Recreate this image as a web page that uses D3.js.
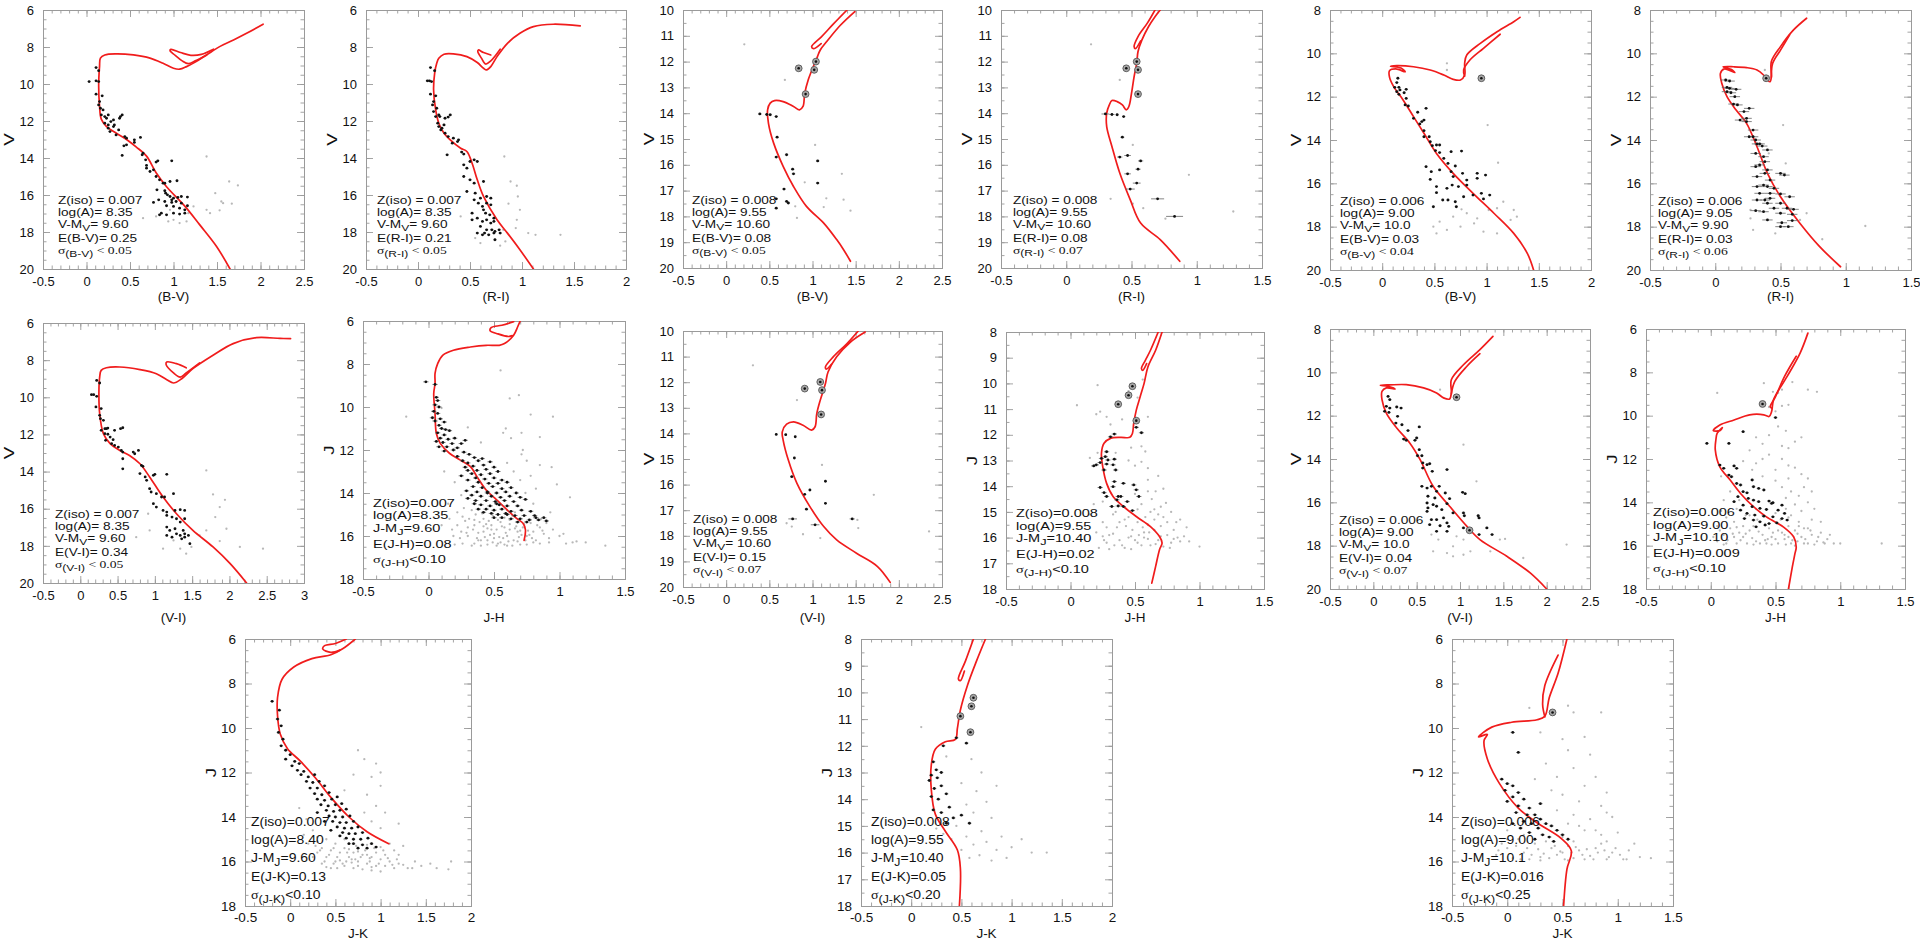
<!DOCTYPE html>
<html><head><meta charset="utf-8">
<script src="https://cdn.jsdelivr.net/npm/d3@7"></script>
<style>
body{margin:0;background:#fff;}
svg{display:block;}
text{font-family:"Liberation Sans",Arial,sans-serif;fill:#111;}
</style></head><body>
<svg id="fig" width="1920" height="941"></svg>
<script>
// ---- tick value sets ----
const xtA=[-0.5,0,0.5,1,1.5,2,2.5], xtB=[-0.5,0,0.5,1,1.5,2], xtC=[-0.5,0,0.5,1,1.5], xtD=[-0.5,0,0.5,1,1.5,2,2.5,3];
const ytA=[6,8,10,12,14,16,18,20], ytB=[10,11,12,13,14,15,16,17,18,19,20], ytC=[8,10,12,14,16,18,20], ytD=[6,8,10,12,14,16,18], ytE=[8,9,10,11,12,13,14,15,16,17,18];

// ---- isochrones (colour, magnitude) ----
const isoP1=[[1.65,20],[1.495,18.78],[1.30,17.6],[1.13,16.6],[0.92,15.55],[0.80,14.8],[0.69,13.9],[0.57,13.4],[0.46,13.0],[0.34,12.65],[0.23,12.3],[0.17,11.9],[0.15,11.2],[0.14,10.1],[0.15,9.05],[0.16,8.6],[0.21,8.43],[0.34,8.37],[0.54,8.43],[0.73,8.6],[0.88,8.88],[1.0,9.15],[1.07,9.2],[1.15,9.06],[1.26,8.79],[1.38,8.43],[1.53,7.98],[1.69,7.62],[1.84,7.26],[2.03,6.77]];
const loopP1=[[1.46,8.12],[1.32,8.4],[1.2,8.45],[1.08,8.3],[0.97,8.13],[0.96,8.2],[1.02,8.45],[1.1,8.75],[1.17,8.9],[1.25,8.75],[1.38,8.43]];
const isoP2=[[1.11,20],[0.98,18.96],[0.86,18.06],[0.76,17.34],[0.63,16.08],[0.57,15.18],[0.52,14.28],[0.47,13.65],[0.41,13.47],[0.31,13.02],[0.25,12.66],[0.20,12.12],[0.17,11.4],[0.15,10.32],[0.16,9.42],[0.18,8.88],[0.20,8.61],[0.25,8.39],[0.34,8.37],[0.47,8.52],[0.57,8.84],[0.63,9.15],[0.66,9.24],[0.70,9.06],[0.76,8.52],[0.86,7.8],[0.98,7.26],[1.11,6.9],[1.30,6.77],[1.56,6.86]];
const loopP2=[[0.70,8.43],[0.63,8.3],[0.58,8.16],[0.575,8.25],[0.61,8.6],[0.65,8.92],[0.70,8.75],[0.79,8.12]];
const isoP3=[[1.44,19.74],[1.36,19.29],[1.28,18.9],[1.13,18.26],[0.93,17.61],[0.78,16.84],[0.66,16.06],[0.55,15.16],[0.49,14.39],[0.48,13.87],[0.51,13.61],[0.56,13.51],[0.66,13.55],[0.78,13.74],[0.85,13.87],[0.89,13.74],[0.91,13.23],[0.95,12.71],[1.01,12.19],[1.05,11.87],[1.09,11.55],[1.17,11.2],[1.32,10.6],[1.49,10.06]];
const loopP3=[[1.40,10.0],[1.24,10.55],[1.10,11.05],[0.99,11.42],[1.01,11.5],[1.10,11.3]];
const isoP4=[[0.87,19.74],[0.72,18.9],[0.57,18.26],[0.49,17.35],[0.41,16.32],[0.35,15.29],[0.31,14.52],[0.31,14.0],[0.33,13.68],[0.35,13.51],[0.39,13.55],[0.43,13.68],[0.46,13.87],[0.48,13.74],[0.50,13.23],[0.52,12.58],[0.54,12.06],[0.55,11.61],[0.58,11.16],[0.63,10.65],[0.68,10.26],[0.72,10.0]];
const loopP4=[[0.68,10.0],[0.62,10.52],[0.55,11.03],[0.52,11.42],[0.53,11.5],[0.57,11.2]];
const isoP5=[[1.45,20],[1.39,19.23],[1.26,18.31],[1.07,17.38],[0.87,16.46],[0.68,15.54],[0.52,14.62],[0.40,13.69],[0.30,12.92],[0.20,12.15],[0.11,11.54],[0.07,11.1],[0.07,10.8],[0.13,10.72],[0.22,10.85],[0.18,10.68],[0.08,10.6],[0.14,10.57],[0.30,10.62],[0.46,10.77],[0.59,11.0],[0.68,11.2],[0.75,11.23],[0.79,11.0],[0.79,10.46],[0.81,10.08],[0.94,9.54],[1.10,9.0],[1.26,8.54],[1.32,8.34]];
const loopP5=[[0.79,11.05],[0.78,10.77],[0.84,10.31],[0.97,9.77],[1.13,9.12]];
const isoP6=[[0.96,19.85],[0.80,18.92],[0.65,17.85],[0.50,16.62],[0.40,15.54],[0.32,14.31],[0.24,13.23],[0.16,12.62],[0.09,12.0],[0.05,11.38],[0.04,10.92],[0.07,10.72],[0.15,10.89],[0.12,10.74],[0.06,10.62],[0.14,10.62],[0.24,10.66],[0.32,10.77],[0.37,11.0],[0.40,11.23],[0.42,11.31],[0.43,11.08],[0.43,10.38],[0.50,9.69],[0.60,8.92],[0.70,8.38]];
const loopP6=[[0.43,11.1],[0.44,10.46],[0.50,9.85],[0.57,9.15]];
const isoP7=[[2.23,20],[2.01,18.96],[1.78,18.06],[1.51,17.17],[1.29,16.27],[1.11,15.37],[0.93,14.29],[0.80,13.58],[0.66,13.13],[0.53,12.86],[0.40,12.5],[0.31,11.96],[0.26,10.88],[0.25,9.63],[0.26,8.91],[0.28,8.55],[0.35,8.41],[0.53,8.37],[0.80,8.51],[1.02,8.73],[1.16,9.05],[1.25,9.23],[1.36,9.0],[1.51,8.46],[1.78,7.74],[2.05,7.11],[2.36,6.79],[2.68,6.83],[2.82,6.84]];
const loopP7=[[1.42,8.41],[1.29,8.19],[1.16,8.1],[1.15,8.23],[1.25,8.69],[1.34,8.91],[1.42,8.69],[1.60,8.15]];
const isoP8=[[0.73,16.2],[0.74,15.71],[0.72,15.4],[0.67,15.17],[0.60,14.78],[0.52,14.32],[0.44,13.86],[0.37,13.24],[0.32,12.77],[0.24,12.46],[0.16,12.15],[0.09,11.69],[0.06,11.23],[0.05,10.3],[0.04,9.37],[0.05,8.91],[0.05,8.44],[0.07,7.98],[0.11,7.59],[0.19,7.36],[0.32,7.21],[0.44,7.13],[0.54,7.13],[0.58,7.05],[0.65,6.66],[0.68,6.28],[0.70,6.0]];
const loopP8=[[0.65,6.03],[0.56,6.2],[0.48,6.3],[0.47,6.45],[0.53,6.6],[0.61,6.72],[0.64,6.68]];
const isoP9=[[1.90,19.82],[1.75,19.19],[1.51,18.68],[1.28,18.16],[1.13,17.64],[0.97,16.86],[0.82,15.95],[0.72,15.04],[0.66,14.26],[0.65,13.94],[0.70,13.64],[0.78,13.55],[0.89,13.68],[0.99,13.87],[1.03,13.74],[1.05,13.22],[1.09,12.7],[1.15,12.05],[1.18,11.6],[1.28,11.01],[1.44,10.43],[1.61,10.04]];
const loopP9=[[1.53,10.0],[1.40,10.49],[1.24,11.01],[1.15,11.4],[1.16,11.49],[1.22,11.3]];
const isoP10=[[0.63,17.77],[0.66,17.12],[0.69,16.47],[0.71,16.21],[0.69,15.96],[0.62,15.57],[0.51,15.18],[0.41,14.79],[0.33,14.4],[0.28,13.89],[0.25,13.24],[0.24,12.72],[0.26,12.33],[0.31,12.14],[0.39,12.1],[0.46,12.1],[0.48,11.95],[0.49,11.56],[0.51,11.04],[0.54,10.52],[0.57,10.01],[0.60,9.36],[0.66,8.71],[0.71,8.0]];
const loopP10=[[0.68,8.0],[0.62,8.71],[0.58,9.1],[0.55,9.42],[0.56,9.49],[0.59,9.23]];
const isoP11=[[2.0,20],[1.81,19.26],[1.54,18.49],[1.23,17.72],[1.08,17.11],[0.88,16.18],[0.69,15.26],[0.54,14.03],[0.42,13.26],[0.27,12.57],[0.15,11.88],[0.10,11.26],[0.10,10.88],[0.15,10.72],[0.25,10.77],[0.17,10.65],[0.08,10.6],[0.19,10.58],[0.38,10.57],[0.58,10.72],[0.73,10.95],[0.81,11.18],[0.88,11.23],[0.90,10.95],[0.90,10.34],[1.04,9.65],[1.23,8.95],[1.38,8.34]];
const loopP11=[[0.90,11.0],[0.94,10.42],[1.08,9.72],[1.23,9.14]];
const isoP12=[[0.60,18],[0.63,16.98],[0.65,16.37],[0.66,16.06],[0.64,15.59],[0.56,15.13],[0.43,14.67],[0.33,14.2],[0.23,13.59],[0.15,12.97],[0.07,12.36],[0.035,11.58],[0.04,11.1],[0.05,10.81],[0.09,10.55],[0.07,10.69],[0.02,10.69],[0.07,10.43],[0.18,10.2],[0.30,9.96],[0.41,9.96],[0.45,10.04],[0.47,9.81],[0.485,9.27],[0.59,8.19],[0.69,7.11],[0.75,6.19]];
const loopP12=[[0.47,9.65],[0.46,9.58],[0.50,9.12],[0.57,8.19],[0.66,7.26]];
const isoP13=[[1.09,15.2],[0.85,14.66],[0.65,14.0],[0.45,13.12],[0.28,12.25],[0.11,11.48],[-0.03,10.93],[-0.11,10.27],[-0.14,9.45],[-0.14,8.63],[-0.09,7.81],[0.04,7.26],[0.24,6.88],[0.45,6.71],[0.58,6.44],[0.72,6.0]];
const loopP13=[[0.62,6.0],[0.50,6.2],[0.38,6.3],[0.36,6.45],[0.45,6.6],[0.55,6.5]];
const isoP14=[[0.48,18.0],[0.49,16.6],[0.46,15.9],[0.34,15.2],[0.24,14.56],[0.20,13.64],[0.20,12.72],[0.24,12.13],[0.34,11.85],[0.44,11.76],[0.46,11.35],[0.49,10.66],[0.56,9.74],[0.65,8.83],[0.74,8.0]];
const loopP14=[[0.62,8.0],[0.54,8.83],[0.47,9.5],[0.49,9.56],[0.53,9.2]];
const isoP15=[[0.51,18.0],[0.54,16.35],[0.58,15.52],[0.49,14.97],[0.27,14.26],[0.10,13.6],[-0.07,12.5],[-0.18,11.39],[-0.21,10.57],[-0.18,10.29],[-0.26,10.4],[-0.14,9.96],[0.04,9.74],[0.27,9.63],[0.34,9.47],[0.38,8.64],[0.46,7.54],[0.54,6.0]];
const loopP15=[[0.34,9.5],[0.32,8.92],[0.34,8.09],[0.46,6.72]];

// ---- cluster members (colour, magnitude[, colour error]) ----
const memP1=[[0.11,9.11],[0.14,9.28],[0.03,9.87],[0.11,9.83],[0.14,9.87],[0.11,10.55],[0.18,10.64],[0.15,10.95],[0.14,11.13],[0.16,11.31],[0.19,11.4],[0.17,11.67],[0.21,11.76],[0.25,11.67],[0.23,11.85],[0.31,11.94],[0.38,11.85],[0.41,11.67],[0.39,11.76],[0.21,12.12],[0.25,12.21],[0.28,12.03],[0.32,12.21],[0.25,12.39],[0.31,12.3],[0.37,12.48],[0.27,12.57],[0.34,12.75],[0.44,12.84],[0.46,12.93],[0.55,13.02],[0.55,13.16],[0.62,12.89],[0.43,13.34],[0.46,13.29],[0.41,13.86],[0.65,13.74],[0.64,13.83],[0.68,14.1],[0.69,14.4],[0.69,14.55],[0.73,14.73],[0.8,14.22],[0.82,14.15],[0.98,14.15],[0.77,14.64],[0.80,15.0],[0.84,15.18],[0.88,15.36],[0.90,15.36],[0.96,15.27],[1.04,15.23],[0.81,15.72],[0.90,15.77],[0.91,15.9],[0.93,15.99],[0.96,16.08],[0.98,16.26],[1.0,16.17],[1.05,16.13],[1.09,16.08],[0.98,16.4],[1.03,16.35],[1.09,16.44],[1.16,16.11],[1.16,16.58],[0.77,16.4],[0.83,16.26],[0.90,16.35],[0.92,16.58],[1.0,16.62],[1.07,16.71],[1.13,16.8],[0.84,17.07],[0.92,17.07],[1.0,16.98],[1.07,17.03],[1.13,16.98],[0.86,16.98]];
const memP2=[[0.12,9.11],[0.16,9.28],[0.09,9.83],[0.11,9.83],[0.13,9.87],[0.12,10.55],[0.17,10.64],[0.15,10.95],[0.14,11.13],[0.18,11.31],[0.15,11.49],[0.17,11.76],[0.2,11.67],[0.21,11.76],[0.26,11.85],[0.29,11.79],[0.31,11.67],[0.19,12.12],[0.2,12.3],[0.23,12.39],[0.25,12.21],[0.22,12.48],[0.26,12.66],[0.29,12.84],[0.34,12.93],[0.38,13.11],[0.39,13.02],[0.33,13.2],[0.28,13.83],[0.42,13.68],[0.44,13.79],[0.44,14.37],[0.47,14.55],[0.5,14.19],[0.54,14.1],[0.57,14.19],[0.44,15.0],[0.5,15.18],[0.54,15.36],[0.47,15.81],[0.55,15.9],[0.63,15.27],[0.54,16.26],[0.58,16.44],[0.60,16.17],[0.66,16.08],[0.70,16.17],[0.62,16.62],[0.66,16.44],[0.70,16.53],[0.63,16.8],[0.65,16.98],[0.52,16.98],[0.52,17.34],[0.57,17.25],[0.62,17.43],[0.66,17.34],[0.70,17.52],[0.73,17.25],[0.6,17.7],[0.66,17.88],[0.71,17.88],[0.74,17.97],[0.64,18.06],[0.73,18.06],[0.57,18.06],[0.62,18.15],[0.68,18.15],[0.74,18.42],[0.78,17.88],[0.79,18.06],[0.73,17.43],[0.69,17.07]];
const memP3=[[0.39,14.03],[0.47,14.05],[0.51,14.06],[0.58,14.13],[0.59,14.93],[0.58,15.7],[0.70,15.61],[1.06,15.85],[0.77,16.17],[0.78,16.35],[1.06,16.71],[0.67,16.94],[0.58,17.32],[0.70,17.42],[0.72,17.48],[0.58,17.68]];
const memP4=[[0.30,14.03,0.03],[0.35,14.05,0.02],[0.39,14.06,0.012],[0.44,14.13,0.012],[0.43,14.93,0.015],[0.41,15.7,0.02],[0.47,15.64,0.025],[0.57,15.85,0.02],[0.55,16.17,0.02],[0.47,16.35,0.025],[0.54,16.71,0.03],[0.49,16.94,0.035],[0.70,17.32,0.05],[0.83,18.0,0.065]];
const memP5=[[0.15,11.15],[0.14,11.35],[0.12,11.57],[0.16,11.57],[0.14,11.77],[0.17,11.69],[0.23,11.66],[0.16,11.89],[0.21,11.82],[0.23,12.08],[0.22,12.38],[0.25,12.43],[0.42,12.54],[0.34,12.72],[0.30,13.0],[0.40,13.08],[0.38,13.15],[0.36,13.26],[0.40,13.57],[0.40,13.85],[0.45,13.85],[0.46,14.08],[0.48,14.26],[0.52,14.23],[0.55,14.23],[0.51,14.49],[0.55,14.58],[0.66,14.54],[0.76,14.51],[0.59,14.85],[0.63,15.08],[0.42,15.23],[0.70,15.2],[0.47,15.46],[0.55,15.38],[0.66,15.46],[0.77,15.54],[0.91,15.54],[0.99,15.62],[0.46,15.82],[0.68,15.69],[0.81,15.85],[0.91,15.77],[0.52,16.15],[0.62,16.23],[0.67,16.08],[0.73,16.15],[0.81,16.08],[0.78,16.62],[0.87,16.54],[0.95,16.46],[1.03,16.54],[0.97,16.72],[0.52,16.43],[0.58,16.77],[0.63,16.77],[0.70,16.85],[0.49,17.08],[0.71,17.08]];
const memP6=[[0.08,11.23],[0.11,11.28],[0.09,11.57],[0.11,11.62],[0.09,11.77],[0.16,11.66],[0.15,12.0],[0.12,11.82],[0.14,12.34],[0.17,12.38],[0.26,12.54],[0.22,12.69],[0.19,13.08],[0.24,13.0],[0.24,13.15],[0.29,13.54],[0.26,13.85],[0.29,13.85],[0.31,14.0],[0.32,14.18],[0.34,14.18],[0.36,14.28],[0.40,14.46],[0.31,14.62],[0.37,14.77],[0.38,15.0],[0.34,15.15],[0.31,15.23],[0.40,15.38],[0.38,15.54],[0.50,15.54],[0.53,15.62],[0.32,15.69],[0.42,15.85],[0.32,16.15],[0.37,16.08],[0.40,16.15],[0.45,16.23],[0.34,16.46],[0.42,16.46],[0.50,16.49],[0.57,16.62],[0.32,16.77],[0.38,16.77],[0.42,16.69],[0.50,16.92],[0.55,17.15],[0.60,17.2],[0.45,17.15],[0.40,16.92],[0.31,17.26],[0.37,17.31],[0.50,17.38],[0.59,17.43],[0.40,17.69],[0.51,17.82],[0.59,17.72],[0.50,18.0],[0.56,18.0]];
const memP7=[[0.22,9.09],[0.26,9.23],[0.15,9.86],[0.18,9.86],[0.22,9.95],[0.21,10.52],[0.28,10.61],[0.26,10.97],[0.27,11.15],[0.31,11.24],[0.28,11.78],[0.33,11.69],[0.35,11.69],[0.37,11.66],[0.46,11.78],[0.54,11.69],[0.57,11.64],[0.33,11.96],[0.37,11.99],[0.40,12.14],[0.44,12.28],[0.34,12.32],[0.42,12.5],[0.46,12.59],[0.51,12.68],[0.55,12.86],[0.57,12.95],[0.57,13.31],[0.71,12.95],[0.73,13.04],[0.78,12.86],[0.57,13.85],[0.82,13.67],[0.84,13.72],[0.80,14.11],[0.87,14.29],[0.89,14.47],[0.98,14.2],[1.0,14.15],[1.16,14.15],[0.93,14.92],[0.95,15.1],[1.02,15.19],[1.09,15.37],[1.13,15.37],[1.25,15.19],[0.98,15.73],[1.02,15.91],[1.11,16.09],[1.16,16.18],[1.27,16.09],[1.34,16.05],[1.40,16.09],[1.16,16.36],[1.23,16.45],[1.29,16.54],[1.34,16.72],[1.40,16.54],[1.16,16.99],[1.20,17.17],[1.27,17.08],[1.29,17.35],[1.34,17.44],[1.38,17.17],[1.40,17.35],[1.45,17.44],[1.16,17.44],[1.23,17.53],[1.36,17.62],[1.40,17.53],[1.47,17.88]];
const memP8=[[-0.02,8.83],[0.05,8.95],[0.06,9.55],[0.07,9.7],[0.05,9.9],[0.08,10.0],[0.04,10.2],[0.07,10.3],[0.03,10.5],[0.09,10.55],[0.05,10.65],[0.12,10.7],[0.08,10.85],[0.1,11.0],[0.13,11.05],[0.16,11.1],[0.07,11.2],[0.12,11.3],[0.09,11.45],[0.15,11.5],[0.2,11.45],[0.06,11.6],[0.11,11.65],[0.18,11.7],[0.08,11.85],[0.14,11.85],[0.22,11.9],[0.25,11.7],[0.28,11.55],[0.12,12.05],[0.19,12.0],[0.27,12.1],[0.31,12.2],[0.22,12.3],[0.35,12.35],[0.26,12.5],[0.38,12.5],[0.3,12.6],[0.41,12.4],[0.28,12.8],[0.34,12.75],[0.42,12.7],[0.47,12.55],[0.3,12.95],[0.37,12.95],[0.44,12.9],[0.5,12.8],[0.33,13.1],[0.4,13.15],[0.47,13.1],[0.53,13.0],[0.36,13.3],[0.43,13.35],[0.5,13.3],[0.56,13.4],[0.3,13.4],[0.38,13.5],[0.46,13.55],[0.53,13.55],[0.6,13.5],[0.34,13.7],[0.41,13.75],[0.49,13.7],[0.56,13.8],[0.63,13.75],[0.29,13.9],[0.37,13.95],[0.45,13.95],[0.52,14.0],[0.59,13.95],[0.67,14.0],[0.33,14.1],[0.4,14.15],[0.48,14.15],[0.55,14.2],[0.62,14.15],[0.7,14.2],[0.36,14.35],[0.44,14.35],[0.51,14.4],[0.58,14.35],[0.65,14.4],[0.74,14.3],[0.4,14.55],[0.47,14.6],[0.54,14.55],[0.6,14.6],[0.68,14.6],[0.44,14.75],[0.5,14.8],[0.56,14.75],[0.63,14.85],[0.71,14.8],[0.78,14.85],[0.48,14.95],[0.53,15.0],[0.59,14.95],[0.66,15.05],[0.73,15.05],[0.81,15.05],[0.56,15.15],[0.63,15.2],[0.7,15.2],[0.77,15.25],[0.84,15.25],[0.9,15.3],[0.75,15.35],[0.68,15.35],[0.82,15.15],[0.88,15.15],[0.35,14.5],[0.3,14.25],[0.25,13.2],[0.45,14.0],[0.52,14.5],[0.6,15.0],[0.42,14.9],[0.5,15.15],[0.38,14.75]];
const memP9=[[0.58,14.04,0.01],[0.69,14.05,0.015],[0.80,14.13,0.01],[0.79,14.96,0.01],[0.76,15.69,0.02],[1.15,15.87,0.01],[0.97,16.21,0.015],[0.91,16.38,0.015],[1.15,16.73,0.015],[0.93,16.96,0.02],[0.77,17.34,0.05],[1.46,17.34,0.03],[1.03,17.57,0.05]];
const memP10=[[0.51,11.71],[0.55,11.92],[0.34,11.97],[0.31,12.08],[0.28,12.66],[0.27,12.85],[0.24,12.92],[0.29,12.98],[0.34,12.95],[0.23,13.08],[0.20,13.17],[0.18,13.21],[0.28,13.14],[0.33,13.17],[0.26,13.37],[0.35,13.37],[0.34,13.82],[0.41,13.89],[0.49,13.95],[0.33,14.02],[0.23,14.05],[0.51,14.14],[0.26,14.25],[0.28,14.4],[0.37,14.4],[0.39,14.4],[0.53,14.4],[0.36,14.53],[0.44,14.6],[0.37,14.77],[0.41,14.79],[0.48,14.95],[0.32,14.79]];
const memP11=[[0.17,11.11],[0.19,11.26],[0.15,11.57],[0.19,11.65],[0.13,11.8],[0.18,11.85],[0.27,11.6],[0.32,11.65],[0.28,12.03],[0.26,12.34],[0.33,12.42],[0.53,12.52],[0.40,12.69],[0.35,13.08],[0.38,13.14],[0.48,13.14],[0.50,13.03],[0.53,13.57],[0.51,13.85],[0.56,13.85],[0.57,14.18],[0.62,14.26],[0.65,14.22],[0.68,14.57],[0.57,14.42],[0.85,14.49],[0.56,15.26],[0.62,15.34],[0.67,15.26],[0.73,15.49],[0.76,15.26],[0.63,15.72],[0.71,15.8],[0.83,15.57],[0.88,15.83],[1.03,15.54],[1.06,15.6],[0.62,16.03],[0.69,16.11],[0.73,16.18],[0.79,16.34],[0.85,16.06],[0.63,16.26],[0.62,16.42],[0.67,16.8],[0.73,16.8],[0.81,16.72],[0.92,16.49],[1.04,16.49],[1.05,16.62],[1.21,16.62],[1.22,16.72],[0.65,17.03],[0.77,17.08],[0.85,16.95],[0.87,17.11],[0.73,17.34],[0.85,17.34],[1.04,17.18],[1.22,17.49],[1.37,17.49],[1.31,17.18]];
const memP12=[[-0.03,11.28],[0.14,11.28],[0.25,10.74],[0.50,10.09],[0.07,12.28],[0.10,12.43],[0.18,12.32],[0.20,12.43],[0.14,12.74],[0.16,12.82],[0.20,13.13],[0.23,13.2],[0.32,12.97],[0.25,13.51],[0.28,13.56],[0.33,13.28],[0.37,13.36],[0.41,13.43],[0.21,13.74],[0.29,13.82],[0.33,13.9],[0.37,13.97],[0.45,13.94],[0.48,14.02],[0.18,13.97],[0.25,14.13],[0.32,14.2],[0.38,14.28],[0.43,14.33],[0.52,14.36],[0.57,14.51],[0.23,14.36],[0.28,14.51],[0.34,14.59],[0.41,14.64],[0.48,14.67],[0.55,14.75],[0.59,14.82],[0.26,14.75],[0.33,14.82],[0.38,14.9],[0.45,14.98],[0.51,14.95],[0.35,15.13],[0.42,15.05],[0.47,14.05],[0.55,14.13]];
const memP13=[[-0.2,8.8],[-0.12,9.2],[-0.14,9.6],[-0.1,9.9],[-0.13,10.2],[-0.08,10.5],[-0.1,10.8],[-0.05,11.0],[0.0,11.2],[-0.05,11.4],[0.05,11.5],[0.1,11.6],[0.02,11.7],[0.08,11.9],[0.15,11.95],[0.12,12.1],[0.2,12.2],[0.27,12.1],[0.18,12.4],[0.25,12.45],[0.32,12.4],[0.22,12.7],[0.3,12.7],[0.38,12.6],[0.27,12.95],[0.35,13.0],[0.43,12.9],[0.3,13.2],[0.38,13.25],[0.46,13.2],[0.52,13.1],[0.34,13.45],[0.42,13.5],[0.5,13.45],[0.57,13.4],[0.4,13.7],[0.48,13.75],[0.55,13.7],[0.62,13.65],[0.43,13.95],[0.5,14.0],[0.58,14.0],[0.66,13.95],[0.47,14.2],[0.55,14.25],[0.62,14.25],[0.7,14.2],[0.52,14.45],[0.6,14.5],[0.68,14.5],[0.75,14.45],[0.58,14.7],[0.65,14.75],[0.72,14.75],[0.8,14.7],[0.62,14.95],[0.7,15.0],[0.78,15.0],[0.86,14.95],[0.7,15.2],[0.8,15.25],[0.9,15.2],[0.95,15.35],[0.75,15.4],[0.55,14.85],[0.45,14.6],[0.85,15.4],[0.65,15.2],[0.38,14.2],[0.3,13.8]];
const memP14=[[0.45,11.7],[0.55,11.9],[0.32,12.0],[0.22,12.6],[0.25,12.9],[0.2,13.1],[0.18,13.3],[0.26,13.2],[0.3,13.0],[0.23,13.6],[0.2,13.9],[0.27,14.0],[0.35,13.8],[0.22,14.4],[0.3,14.5],[0.38,14.3],[0.42,14.7],[0.5,14.6],[0.58,14.9],[0.35,14.9],[0.3,13.5]];
const memP15=[[0.05,10.2],[0.1,11.1],[-0.05,12.3],[0.0,12.5],[0.05,12.6],[-0.02,12.8],[0.1,12.9],[0.05,13.1],[0.15,13.2],[0.0,13.3],[0.1,13.5],[0.2,13.6],[0.08,13.8],[0.18,13.9],[0.25,13.9],[0.3,14.1],[0.15,14.2],[0.22,14.3],[0.35,14.3],[0.4,14.4],[0.28,14.5],[0.45,14.6],[0.2,14.7],[0.32,14.8],[0.5,14.8],[0.38,14.9],[0.25,15.0],[0.42,15.1],[0.55,15.0],[0.12,14.5],[0.05,14.3],[0.3,13.4]];

// ---- field stars ----
const fldP1=[[1.38,13.92],[1.64,15.27],[1.74,15.48],[1.48,15.9],[1.57,16.44],[1.55,16.35],[1.67,16.47],[1.42,16.98],[1.53,16.83],[1.15,17.43],[1.0,17.34],[1.07,17.52],[0.65,17.25],[0.96,16.8],[0.94,17.43],[0.80,17.16],[1.17,16.98],[1.23,16.62],[1.38,16.8]];
const fldP2=[[0.83,13.92],[0.89,15.27],[0.95,15.5],[0.96,16.08],[0.87,16.47],[0.98,16.8],[0.95,17.34],[0.94,17.79],[1.06,18.06],[1.13,18.15],[1.37,18.15],[0.84,18.51],[0.79,18.74],[0.55,18.33],[0.6,18.6],[0.41,17.16],[0.82,17.88]];
const fldP3=[[0.21,11.33],[0.68,12.71],[1.03,15.23],[0.91,16.68],[1.34,16.35],[1.16,17.3],[1.36,17.35],[1.13,17.64],[0.80,17.61],[0.82,18.06],[1.44,17.78]];
const fldP4=[[0.19,11.33],[0.41,12.71],[0.51,15.23],[0.94,16.39],[0.34,17.32],[0.51,17.51],[0.59,17.68],[0.76,18.09],[1.28,17.81]];
const fldP5=[[0.62,10.46],[0.62,10.77],[1.01,13.31],[1.11,15.05],[1.16,16.85],[1.10,17.15],[1.26,17.23],[1.23,17.69],[1.29,17.54],[1.02,17.23],[0.81,17.38],[0.68,17.54],[0.55,17.77],[0.49,18.0],[0.62,18.15],[0.75,18.0],[0.88,17.85],[0.97,18.23],[1.10,18.31],[0.52,18.31],[0.91,17.62],[0.76,17.2]];
const fldP6=[[0.38,10.77],[0.52,13.31],[0.41,14.62],[0.54,15.08],[0.27,17.23],[0.27,17.62],[0.46,18.31],[0.65,17.69],[0.70,17.38],[0.82,18.58],[1.15,17.97],[0.29,18.15]];
const fldP7=[[1.69,13.94],[1.78,15.23],[1.94,15.52],[1.87,15.91],[1.81,16.45],[1.96,17.08],[1.69,17.17],[1.6,17.44],[1.87,17.74],[2.14,18.06],[2.45,18.15],[1.25,17.71],[1.34,18.15],[1.49,18.06],[1.42,18.42],[0.91,16.27],[0.93,17.17],[0.75,17.53],[1.11,18.15]];
const fldP8=[[-0.17,10.45],[0.95,10.45],[0.55,8.3],[0.62,9.6],[0.69,9.45],[0.78,10.35],[0.1,10.05],[0.3,10.95],[0.59,11.0],[0.57,11.2],[0.71,11.2],[0.4,11.65],[0.63,11.45],[0.72,12.0],[0.71,12.2],[0.85,11.4],[0.94,12.8],[0.85,12.7],[0.98,13.6],[1.08,14.2],[0.78,13.2],[0.75,12.5],[0.6,12.6],[0.65,13.0],[0.12,13.0],[0.2,13.5],[0.25,14.1],[0.15,14.5],[0.22,14.9],[0.28,15.3],[0.18,15.7],[0.1,15.5],[0.25,15.8],[0.3,16.0],[0.35,15.5],[0.38,16.2],[0.42,15.8],[0.45,16.4],[0.48,15.5],[0.5,16.1],[0.52,15.7],[0.55,16.3],[0.58,15.6],[0.6,16.0],[0.62,15.45],[0.65,16.2],[0.68,15.8],[0.7,16.4],[0.72,15.6],[0.75,16.0],[0.78,15.4],[0.8,15.8],[0.82,16.2],[0.85,15.6],[0.88,15.9],[0.9,15.4],[0.92,16.1],[0.95,15.7],[1.0,16.0],[1.03,15.9],[1.1,16.3],[1.2,16.3],[1.35,16.45],[1.05,16.35],[1.13,16.25],[0.36,15.0],[0.42,15.2],[0.33,14.8],[0.46,15.3],[0.55,15.35],[0.62,15.7],[0.67,15.55],[0.71,15.95],[0.52,16.45],[0.4,16.45],[0.45,16.2],[0.58,16.4],[0.64,16.45],[0.3,15.6],[0.24,16.1],[0.2,16.4],[0.35,16.35],[0.5,15.9],[0.57,16.1],[0.8,16.3],[0.75,16.4],[0.85,16.35],[0.92,16.3],[0.86,15.2],[0.93,14.9],[0.8,14.5],[0.74,14.0],[0.82,13.8],[0.7,13.4],[0.6,14.8],[0.42,15.55],[0.48,15.7],[0.38,15.85],[0.66,14.9],[0.26,15.1],[0.16,15.2],
 [0.27,14.7],[0.31,15.2],[0.34,15.7],[0.37,16.1],[0.41,14.95],[0.44,15.45],[0.47,15.95],[0.49,16.3],[0.53,15.25],[0.56,15.55],[0.59,15.85],[0.61,16.25],[0.64,15.05],[0.66,15.65],[0.69,16.05],[0.73,15.45],[0.76,15.75],[0.79,16.1],[0.83,15.5],[0.87,15.75],[0.22,15.5],[0.19,16.0],[0.26,16.35],[0.33,16.45],[0.43,16.05],[0.39,15.35],[0.54,16.05],[0.6,16.45],[0.68,16.25],[0.74,16.2],[0.49,15.05],[0.58,15.15],[0.35,15.25],[0.29,15.85],[0.45,15.65],[0.62,15.25],[0.7,15.75],[0.77,15.95],[0.53,16.35],[0.4,16.2]];
const fldP9=[[0.31,11.34],[0.82,12.7],[1.11,15.23],[1.71,16.4],[1.52,17.38],[1.53,17.7],[0.70,17.51],[0.76,17.64],[0.89,17.94],[1.09,18.09],[2.35,17.83]];
const fldP10=[[0.21,10.07],[0.05,10.85],[0.2,11.2],[0.23,11.1],[0.28,11.3],[0.31,11.6],[0.4,11.4],[0.56,9.85],[0.45,10.3],[0.52,10.55],[0.6,11.3],[0.55,12.45],[0.58,12.65],[0.47,12.5],[0.35,12.7],[0.15,12.9],[0.21,12.7],[0.45,13.0],[0.5,13.2],[0.55,13.05],[0.6,13.3],[0.68,13.6],[0.6,13.75],[0.72,14.1],[0.66,14.2],[0.63,14.5],[0.55,14.7],[0.7,14.8],[0.74,14.65],[0.78,15.0],[0.62,15.0],[0.85,15.3],[0.9,15.6],[0.8,15.7],[0.75,15.9],[0.7,15.55],[0.65,15.3],[0.6,15.5],[0.57,15.8],[0.52,15.4],[0.48,15.7],[0.45,16.0],[0.42,15.3],[0.4,16.3],[0.36,15.6],[0.33,15.1],[0.3,15.9],[0.28,16.2],[0.25,15.4],[0.22,16.4],[0.2,15.8],[0.18,14.7],[0.15,15.1],[0.25,14.6],[0.35,15.0],[0.5,16.1],[0.55,16.3],[0.6,16.05],[0.62,16.3],[0.68,16.1],[0.72,16.35],[0.78,16.2],[0.83,16.0],[0.85,16.15],[0.92,16.15],[1.0,16.35],[0.65,15.7],[0.6,14.2],[0.52,14.9],[0.45,15.2],[0.38,15.4],[0.42,16.4],[0.53,15.9],[0.58,15.2],[0.68,15.1],[0.72,15.2],[0.82,15.4],[0.77,16.4],[0.5,14.3],[0.65,14.9],[0.57,16.0],[0.47,16.45],[0.3,16.45],[0.26,16.1],
 [0.28,15.6],[0.33,15.85],[0.38,16.1],[0.43,15.55],[0.47,15.95],[0.52,16.2],[0.56,15.6],[0.61,15.8],[0.66,16.25],[0.7,15.95],[0.75,15.4],[0.8,16.05],[0.88,15.95],[0.34,16.3],[0.25,15.95]];
const fldP11=[[0.77,10.8],[1.04,13.34],[1.19,15.03],[0.67,17.49],[0.75,17.72],[0.96,17.57],[1.04,17.72],[0.92,18.03],[0.69,18.26],[0.85,18.34],[0.92,18.49],[1.04,18.42],[1.12,18.26],[1.35,18.26],[1.46,17.72],[1.52,17.69],[1.73,18.57],[2.23,17.95]];
const fldP12=[[0.05,8.95],[0.41,8.5],[0.48,8.9],[0.52,8.95],[0.55,8.8],[0.63,8.45],[0.75,8.8],[0.82,8.9],[0.5,9.8],[0.45,9.6],[0.55,9.55],[0.6,9.5],[0.52,10.5],[0.58,10.7],[0.45,10.9],[0.35,11.0],[0.4,11.3],[0.3,11.6],[0.55,11.4],[0.6,11.5],[0.65,11.2],[0.7,11.0],[0.45,11.8],[0.55,12.0],[0.6,12.3],[0.5,12.5],[0.65,12.4],[0.7,12.7],[0.75,12.9],[0.6,12.9],[0.5,13.0],[0.4,12.8],[0.32,12.5],[0.25,12.1],[0.35,12.2],[0.4,12.0],[0.55,13.3],[0.62,13.5],[0.68,13.7],[0.72,13.3],[0.78,13.5],[0.58,13.8],[0.65,14.1],[0.7,14.4],[0.75,14.0],[0.8,14.3],[0.62,14.6],[0.68,14.9],[0.72,15.2],[0.78,15.5],[0.82,15.8],[0.88,15.9],[0.75,15.9],[0.7,15.6],[0.65,15.3],[0.6,15.1],[0.55,15.4],[0.5,15.7],[0.45,15.2],[0.4,15.5],[0.35,15.8],[0.3,15.3],[0.25,15.6],[0.2,15.9],[0.15,15.2],[0.1,15.5],[0.05,15.8],[0.18,14.9],[0.12,14.7],[0.08,14.4],[0.05,15.1],[0.22,15.4],[0.28,15.9],[0.33,15.1],[0.38,15.9],[0.43,15.9],[0.48,15.4],[0.52,15.9],[0.57,15.7],[0.62,15.9],[0.67,15.8],[0.72,15.9],[0.85,15.4],[0.9,15.7],[0.95,15.9],[1.0,15.9],[1.32,15.9],[0.78,14.8],[0.85,14.9],[0.58,14.3],[0.42,15.0],[0.25,15.1],[0.12,15.9],[0.18,15.6],[0.27,14.6],[0.2,14.3],[0.1,13.9],[0.15,13.5],[0.22,13.9],[0.08,12.8],[0.68,15.1],[0.6,15.6],[0.75,15.2],[0.54,14.8],[0.44,15.7],[0.36,14.8],[0.3,14.6],
 [0.07,15.3],[0.13,15.75],[0.17,15.45],[0.23,15.75],[0.27,15.45],[0.32,15.65],[0.37,15.35],[0.42,15.75],[0.47,15.6],[0.52,15.3],[0.57,15.5],[0.63,15.75],[0.67,15.45],[0.73,15.7],[0.77,15.3],[0.83,15.6],[0.87,15.85],[0.92,15.5],[0.02,15.6],[0.1,15.95],[0.2,15.15],[0.33,15.95],[0.47,15.95],[0.58,15.95],[0.65,16.0],[0.8,15.95],[0.4,14.6],[0.5,14.5],[0.6,14.7],[0.35,14.3]];
const fldP13=[[0.75,11.0],[0.82,11.4],[0.95,11.6],[0.7,12.1],[0.9,12.2],[1.0,12.6],[0.85,13.0],[0.6,12.8],[0.95,13.5],[1.05,13.8],[1.2,14.3],[1.0,14.5],[0.9,14.2],[0.82,13.8],[0.1,13.6],[0.18,14.1],[0.25,14.6],[0.3,15.1],[0.2,15.2],[0.35,15.4],[0.4,15.0],[0.45,15.5],[0.5,15.2],[0.55,15.6],[0.6,15.4],[0.65,15.8],[0.7,15.6],[0.75,16.0],[0.8,15.7],[0.85,16.1],[0.9,15.8],[0.95,16.2],[1.0,15.9],[1.05,16.2],[1.1,16.0],[1.15,16.3],[1.2,16.1],[1.3,16.3],[1.45,16.2],[1.62,16.3],[1.75,16.35],[1.55,16.1],[1.38,16.0],[0.5,16.0],[0.4,15.8],[0.3,15.6],[0.6,16.2],[0.7,16.3],[0.8,16.35],[0.9,16.4],[1.0,16.45],[0.45,16.3],[0.55,15.95],[0.65,15.45],[0.75,15.55],[0.85,15.7],[0.95,15.6],[1.05,15.7],[1.2,15.7],[1.25,15.3],[1.1,15.2],[0.25,15.8],[0.15,14.8],[0.35,16.1],[0.62,16.0],[0.72,15.9],[0.88,16.0],[1.15,15.5],[1.78,16.0],[1.0,12.0],[0.3,14.9],
 [0.33,15.5],[0.38,16.0],[0.43,15.7],[0.48,15.4],[0.52,15.8],[0.58,16.1],[0.63,15.6],[0.68,15.9],[0.73,15.3],[0.78,15.8],[0.83,15.5],[0.88,15.85],[0.93,15.4],[0.98,16.1],[1.03,15.5],[1.08,15.85],[1.13,16.15],[1.18,15.9],[0.4,16.25],[0.52,16.3],[0.68,16.05],[0.9,16.25],[1.25,16.15],[1.35,16.3],[0.28,15.3],[0.6,15.0],[0.85,15.25],[1.0,15.35],[0.48,16.1],[0.75,16.2]];
const fldP14=[[0.1,11.3],[0.6,12.5],[0.7,13.0],[0.5,13.4],[0.65,13.7],[0.75,14.1],[0.55,14.2],[0.62,14.5],[0.8,14.7],[0.45,15.0],[0.7,15.2],[0.9,15.4],[0.4,15.5],[0.55,15.4],[0.62,15.7],[0.75,15.6],[0.85,15.9],[1.0,15.8],[1.2,16.0],[1.35,16.0],[0.5,15.9],[0.32,15.3],[0.25,15.1],[0.68,16.1],[0.8,16.3],[0.95,16.2],[0.58,16.2],[1.1,15.5],[0.35,12.4],[0.85,13.5]];
const fldP15=[[0.2,9.1],[0.55,9.0],[0.6,9.3],[0.85,9.3],[0.3,10.2],[0.5,10.5],[0.7,10.4],[0.75,11.2],[0.35,11.6],[0.6,11.8],[0.8,12.2],[0.45,12.2],[0.7,12.6],[0.9,12.9],[0.5,13.0],[0.65,13.3],[0.85,13.5],[0.45,13.7],[0.6,13.9],[0.75,14.1],[0.95,14.0],[0.55,14.3],[0.7,14.6],[0.85,14.8],[1.0,14.7],[0.1,15.0],[0.25,15.2],[0.4,15.4],[0.55,15.3],[0.65,15.5],[0.8,15.4],[0.95,15.6],[1.1,15.5],[1.2,15.8],[0.0,15.4],[-0.1,15.7],[0.15,15.6],[0.3,15.8],[0.45,15.7],[0.6,15.85],[0.75,15.75],[0.9,15.9],[1.05,15.9],[1.3,15.85],[0.35,15.1],[0.5,15.6],[0.7,15.9],[0.2,15.9],[0.05,15.85],[-0.05,15.2],[0.85,15.2],[0.15,14.8],[0.0,14.6],[0.4,12.8],[0.25,12.3],[0.9,13.8],[1.15,15.2],[0.55,11.0],
 [0.0,15.0],[0.08,15.3],[0.12,15.9],[0.18,15.4],[0.22,15.7],[0.28,15.45],[0.33,15.65],[0.38,15.85],[0.43,15.3],[0.48,15.55],[0.52,15.9],[0.58,15.6],[0.62,15.35],[0.68,15.7],[0.72,15.45],[0.78,15.9],[0.82,15.6],[0.88,15.5],[0.92,15.8],[0.98,15.4],[1.02,15.7],[1.08,15.9],[0.5,14.9],[0.6,15.1],[0.65,14.4],[0.8,14.6],[0.9,15.1],[-0.08,15.5],[0.3,15.95],[0.55,15.95]];

// ---- red-clump / giant stars ----
const gntP3=[[0.84,12.26],[1.04,12.0],[1.02,12.32],[0.92,13.26]];
const gntP4=[[0.46,12.26],[0.54,12.0],[0.55,12.32],[0.55,13.26]];
const gntP5=[[0.95,11.15]];
const gntP6=[[0.39,11.15]];
const gntP9=[[0.91,12.25],[1.09,11.99],[1.11,12.31],[1.10,13.26]];
const gntP10=[[0.48,10.11],[0.45,10.46],[0.37,10.81],[0.51,11.45]];
const gntP11=[[0.96,11.15],[1.11,17.29]];
const gntP12=[[0.40,9.46]];
const gntP14=[[0.62,10.2],[0.6,10.52],[0.49,10.89],[0.59,11.49]];
const gntP15=[[0.41,9.3]];

// ---- fit parameters ----
const txtP1=['Z(iso) = 0.007','log(A)= 8.35','V-M_{V}= 9.60','E(B-V)= 0.25','σ_{(B-V)}~{ < 0.05}'];
const txtP2=['Z(iso) = 0.007','log(A)= 8.35','V-M_{V}= 9.60','E(R-I)= 0.21','σ_{(R-I)}~{ < 0.05}'];
const txtP3=['Z(iso) = 0.008','log(A)= 9.55','V-M_{V}= 10.60','E(B-V)= 0.08','σ_{(B-V)}~{ < 0.05}'];
const txtP4=['Z(iso) = 0.008','log(A)= 9.55','V-M_{V}= 10.60','E(R-I)= 0.08','σ_{(R-I)}~{ < 0.07}'];
const txtP5=['Z(iso) = 0.006','log(A)= 9.00','V-M_{V}= 10.0','E(B-V)= 0.03','σ_{(B-V)}~{ < 0.04}'];
const txtP6=['Z(iso) = 0.006','log(A)= 9.05','V-M_{V}= 9.90','E(R-I)= 0.03','σ_{(R-I)}~{ < 0.06}'];
const txtP7=['Z(iso) = 0.007','log(A)= 8.35','V-M_{V}= 9.60','E(V-I)= 0.34','σ_{(V-I)}~{ < 0.05}'];
const txtP8=['Z(iso)=0.007','log(A)=8.35','J-M_{J}=9.60','E(J-H)=0.08','σ_{(J-H)}<0.10'];
const txtP9=['Z(iso) = 0.008','log(A)= 9.55','V-M_{V}= 10.60','E(V-I)= 0.15','σ_{(V-I)}~{ < 0.07}'];
const txtP10=['Z(iso)=0.008','log(A)=9.55','J-M_{J}=10.40','E(J-H)=0.02','σ_{(J-H)}<0.10'];
const txtP11=['Z(iso) = 0.006','log(A)= 9.00','V-M_{V}= 10.0','E(V-I)= 0.04','σ_{(V-I)}~{ < 0.07}'];
const txtP12=['Z(iso)=0.006','log(A)=9.00','J-M_{J}=10.10','E(J-H)=0.009','σ_{(J-H)}<0.10'];
const txtP13=['Z(iso)=0.007','log(A)=8.40','J-M_{J}=9.60','E(J-K)=0.13','σ_{(J-K)}<0.10'];
const txtP14=['Z(iso)=0.008','log(A)=9.55','J-M_{J}=10.40','E(J-K)=0.05','σ_{(J-K)}<0.20'];
const txtP15=['Z(iso)=0.006','log(A)=9.00','J-M_{J}=10.1','E(J-K)=0.016','σ_{(J-K)}<0.25'];

// ---- panel layout (frame in px) ----
const panels=[
 {x0:43,x1:304,y0:10,y1:269,xt:xtA,yt:ytA,xl:'(B-V)',yl:'V',row:0,kind:'V',iso:isoP1,loop:loopP1,mem:memP1,fld:fldP1,gnt:[],txt:txtP1,err:0.015,tx:15},
 {x0:366,x1:626,y0:10,y1:269,xt:xtB,yt:ytA,xl:'(R-I)',yl:'V',row:0,kind:'V',iso:isoP2,loop:loopP2,mem:memP2,fld:fldP2,gnt:[],txt:txtP2,err:0.015,tx:11},
 {x0:683,x1:942,y0:10,y1:268,xt:xtA,yt:ytB,xl:'(B-V)',yl:'V',row:0,kind:'V',iso:isoP3,loop:loopP3,mem:memP3,fld:fldP3,gnt:gntP3,txt:txtP3,err:0.02,tx:9},
 {x0:1001,x1:1262,y0:10,y1:268,xt:xtC,yt:ytB,xl:'(R-I)',yl:'V',row:0,kind:'V',iso:isoP4,loop:loopP4,mem:memP4,fld:fldP4,gnt:gntP4,txt:txtP4,err:0.02,tx:12},
 {x0:1330,x1:1591,y0:10,y1:270,xt:xtB,yt:ytC,xl:'(B-V)',yl:'V',row:0,kind:'V',iso:isoP5,loop:loopP5,mem:memP5,fld:fldP5,gnt:gntP5,txt:txtP5,err:0.015,tx:10},
 {x0:1650,x1:1911,y0:10,y1:270,xt:xtC,yt:ytC,xl:'(R-I)',yl:'V',row:0,kind:'V',iso:isoP6,loop:loopP6,mem:memP6,fld:fldP6,gnt:gntP6,txt:txtP6,err:0.04,tx:8},
 {x0:43,x1:304,y0:323,y1:583,xt:xtD,yt:ytA,xl:'(V-I)',yl:'V',row:1,kind:'V',iso:isoP7,loop:loopP7,mem:memP7,fld:fldP7,gnt:[],txt:txtP7,err:0.015,tx:12},
 {x0:363,x1:625,y0:321,y1:579,xt:xtC,yt:ytD,xl:'J-H',yl:'J',row:1,kind:'J',iso:isoP8,loop:loopP8,mem:memP8,fld:fldP8,gnt:[],txt:txtP8,err:0.02,tx:10},
 {x0:683,x1:942,y0:331,y1:587,xt:xtA,yt:ytB,xl:'(V-I)',yl:'V',row:1,kind:'V',iso:isoP9,loop:loopP9,mem:memP9,fld:fldP9,gnt:gntP9,txt:txtP9,err:0.015,tx:10},
 {x0:1006,x1:1264,y0:332,y1:589,xt:xtC,yt:ytE,xl:'J-H',yl:'J',row:1,kind:'J',iso:isoP10,loop:loopP10,mem:memP10,fld:fldP10,gnt:gntP10,txt:txtP10,err:0.02,tx:10},
 {x0:1330,x1:1590,y0:329,y1:589,xt:xtA,yt:ytC,xl:'(V-I)',yl:'V',row:1,kind:'V',iso:isoP11,loop:loopP11,mem:memP11,fld:fldP11,gnt:gntP11,txt:txtP11,err:0.02,tx:9},
 {x0:1646,x1:1905,y0:329,y1:589,xt:xtC,yt:ytD,xl:'J-H',yl:'J',row:1,kind:'J',iso:isoP12,loop:loopP12,mem:memP12,fld:fldP12,gnt:gntP12,txt:txtP12,err:0.015,tx:7},
 {x0:245,x1:471,y0:639,y1:906,xt:xtB,yt:ytD,xl:'J-K',yl:'J',row:2,kind:'K',iso:isoP13,loop:loopP13,mem:memP13,fld:fldP13,gnt:[],txt:txtP13,err:0.02,tx:6},
 {x0:861,x1:1112,y0:639,y1:906,xt:xtB,yt:ytE,xl:'J-K',yl:'J',row:2,kind:'K',iso:isoP14,loop:loopP14,mem:memP14,fld:fldP14,gnt:gntP14,txt:txtP14,err:0.02,tx:10},
 {x0:1452,x1:1673,y0:639,y1:906,xt:xtC,yt:ytD,xl:'J-K',yl:'J',row:2,kind:'K',iso:isoP15,loop:loopP15,mem:memP15,fld:fldP15,gnt:gntP15,txt:txtP15,err:0.02,tx:9}
];

const rowStyle=[
 {xlabY:301,tickPad:8,tickFs:13},
 {xlabY:622,tickPad:8,tickFs:13},
 {xlabY:938,tickPad:6,tickFs:13.5}
];
const noteStyle={
 V:{frac:0.75,gaps:[0,12,24,38,50],fs:10.5,sx:1.3,sub:0.24},
 J:{frac:0.72,gaps:[0,12.5,25,41,56],fs:11,sx:1.32,sub:0.3},
 K:{frac:0.70,gaps:[0,18,36,55,73],fs:13.2,sx:1.06,sub:0.3}
};

const svg=d3.select('#fig');
const RED='#f01c1c', FRAME='#9a9a9a';

function minorTicks(lo,hi,step){
  const n=Math.round((hi-lo)/step);
  return d3.range(n+1).map(i=>+(lo+i*step).toFixed(3));
}

// multi-part note line: _{..} lowered text, ~{..} serif text
function drawNote(g,lines,x0,y0,st){
  lines.forEach((s,i)=>{
    const t=g.append('text')
      .attr('transform',`translate(${x0},${y0+st.gaps[i]}) scale(${st.sx},1)`)
      .attr('font-size',st.fs);
    const parts=s.split(/(_\{[^}]*\}|~\{[^}]*\})/).filter(d=>d.length);
    let lowered=false;
    parts.forEach(pt=>{
      if(pt.startsWith('_{')){
        t.append('tspan').attr('dy',st.fs*st.sub).attr('font-size',st.fs*0.88).text(pt.slice(2,-1));
        lowered=true;
      } else {
        const serif=pt.startsWith('~{');
        const str=serif?pt.slice(2,-1):pt;
        const ts=t.append('tspan').text(str);
        if(lowered){ts.attr('dy',-st.fs*st.sub);lowered=false;}
        if(serif||str==='σ') ts.attr('font-family','"Liberation Serif","Times New Roman",serif');
      }
    });
  });
}

panels.forEach((p,k)=>{
  const rs=rowStyle[p.row];
  const x=d3.scaleLinear().domain([p.xt[0],p.xt[p.xt.length-1]]).range([p.x0,p.x1]);
  const y=d3.scaleLinear().domain([p.yt[0],p.yt[p.yt.length-1]]).range([p.y0,p.y1]);
  const g=svg.append('g');
  const cid='clip'+k;
  g.append('clipPath').attr('id',cid).append('rect')
    .attr('x',p.x0).attr('y',p.y0).attr('width',p.x1-p.x0).attr('height',p.y1-p.y0);

  // frame with inward major and minor ticks on all sides
  const fmt=d=>String(d);
  const xm=minorTicks(x.domain()[0],x.domain()[1],0.1);
  const ym=minorTicks(y.domain()[0],y.domain()[1],0.5);
  const ax=g.append('g').attr('class','axes');
  ax.append('g').attr('transform',`translate(0,${p.y1})`)
    .call(d3.axisBottom(x).tickValues(xm).tickSize(-3.5).tickFormat(''));
  ax.append('g').attr('transform',`translate(0,${p.y0})`)
    .call(d3.axisTop(x).tickValues(xm).tickSize(-3.5).tickFormat(''));
  ax.append('g').attr('transform',`translate(${p.x0},0)`)
    .call(d3.axisLeft(y).tickValues(ym).tickSize(-3.5).tickFormat(''));
  ax.append('g').attr('transform',`translate(${p.x1},0)`)
    .call(d3.axisRight(y).tickValues(ym).tickSize(-3.5).tickFormat(''));
  const xb=ax.append('g').attr('transform',`translate(0,${p.y1})`)
    .call(d3.axisBottom(x).tickValues(p.xt).tickSize(-7).tickPadding(rs.tickPad).tickFormat(fmt));
  ax.append('g').attr('transform',`translate(0,${p.y0})`)
    .call(d3.axisTop(x).tickValues(p.xt).tickSize(-7).tickFormat(''));
  const yl=ax.append('g').attr('transform',`translate(${p.x0},0)`)
    .call(d3.axisLeft(y).tickValues(p.yt).tickSize(-7).tickPadding(9).tickFormat(fmt));
  ax.append('g').attr('transform',`translate(${p.x1},0)`)
    .call(d3.axisRight(y).tickValues(p.yt).tickSize(-7).tickFormat(''));
  ax.selectAll('.domain').attr('stroke',FRAME).attr('stroke-width',1);
  ax.selectAll('.tick line').attr('stroke',FRAME).attr('stroke-width',0.9);
  ax.selectAll('g').attr('font-family',null).attr('font-size',null);
  xb.selectAll('text').attr('font-size',rs.tickFs).attr('fill','#111');
  yl.selectAll('text').attr('font-size',rs.tickFs).attr('fill','#111');

  // axis titles
  g.append('text').attr('x',(p.x0+p.x1)/2).attr('y',rs.xlabY)
    .attr('text-anchor','middle').attr('font-size',13.5).text(p.xl);
  g.append('text')
    .attr('transform',`translate(${p.x0-34},${(p.y0+p.y1)/2}) rotate(-90) scale(1.25,1)`)
    .attr('text-anchor','middle').attr('dominant-baseline','central')
    .attr('font-size',15).text(p.yl);

  const plot=g.append('g').attr('clip-path',`url(#${cid})`);

  // field stars
  plot.append('g').selectAll('circle').data(p.fld).join('circle')
    .attr('cx',d=>x(d[0])).attr('cy',d=>y(d[1])).attr('r',1.15).attr('fill','#b8b8b8');

  // isochrone
  const line=d3.line().x(d=>x(d[0])).y(d=>y(d[1])).curve(d3.curveCatmullRom.alpha(0.5));
  [p.iso,p.loop].forEach(c=>{
    plot.append('path').datum(c).attr('d',line)
      .attr('fill','none').attr('stroke',RED).attr('stroke-width',1.7)
      .attr('stroke-linejoin','round').attr('stroke-linecap','round');
  });

  // cluster members with colour error bars
  const mg=plot.append('g');
  mg.selectAll('line').data(p.mem).join('line')
    .attr('x1',d=>x(d[0]-(d[2]!==undefined?d[2]:p.err)))
    .attr('x2',d=>x(d[0]+(d[2]!==undefined?d[2]:p.err)))
    .attr('y1',d=>y(d[1])).attr('y2',d=>y(d[1]))
    .attr('stroke','#666').attr('stroke-width',0.8);
  mg.selectAll('circle').data(p.mem).join('circle')
    .attr('cx',d=>x(d[0])).attr('cy',d=>y(d[1])).attr('r',1.4).attr('fill','#111');

  // giants
  const gg=plot.append('g');
  gg.selectAll('circle.ring').data(p.gnt).join('circle').attr('class','ring')
    .attr('cx',d=>x(d[0])).attr('cy',d=>y(d[1])).attr('r',3.4)
    .attr('fill','#a8a8a8').attr('stroke','#555').attr('stroke-width',0.9);
  gg.selectAll('circle.core').data(p.gnt).join('circle').attr('class','core')
    .attr('cx',d=>x(d[0])).attr('cy',d=>y(d[1])).attr('r',1.3).attr('fill','#111');

  // fit parameters
  const st=noteStyle[p.kind];
  drawNote(g,p.txt,p.x0+p.tx,p.y0+st.frac*(p.y1-p.y0),st);
});
</script>
</body></html>
